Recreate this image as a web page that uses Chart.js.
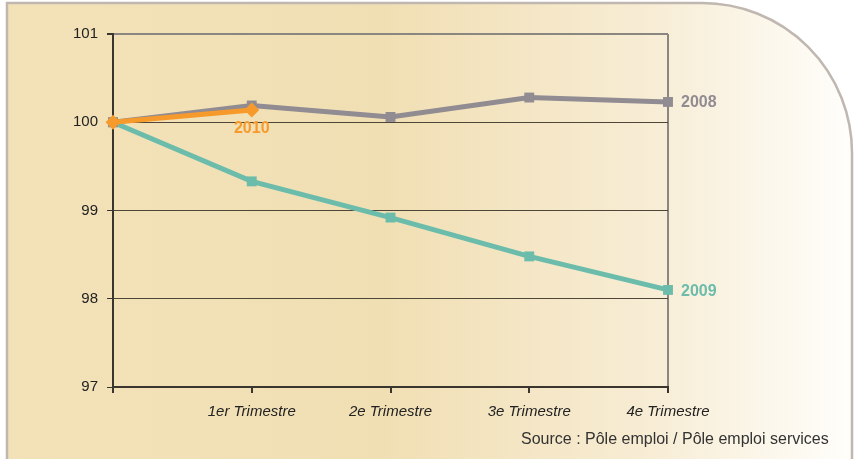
<!DOCTYPE html>
<html>
<head>
<meta charset="utf-8">
<script src="https://cdn.jsdelivr.net/npm/chart.js@4/dist/chart.umd.min.js"></script>
<style>
  html, body { margin: 0; padding: 0; background: #fff; }
  #wrap { width: 858px; height: 459px; position: relative; }
</style>
</head>
<body>
<div id="wrap"><canvas id="myChart" width="858" height="459"></canvas></div>
<script>
// donnees
var trimestres = ["", "1er Trimestre", "2e Trimestre", "3e Trimestre", "4e Trimestre"];
var serie2008 = [100, 100.19, 100.06, 100.28, 100.23];
var serie2009 = [100, 99.33, 98.92, 98.48, 98.10];
var serie2010 = [100, 100.14];
var yTicks = [97, 98, 99, 100, 101];
var source = "Source : Pôle emploi / Pôle emploi services";

var gris = "#918b92";
var vert = "#6bbcab";
var orange = "#f79a2c";

// fond arrondi + source + etiquettes des series
var decor = {
  id: "decor",
  beforeDraw: function (chart) {
    var ctx = chart.ctx;
    ctx.save();
    var grad = ctx.createLinearGradient(7, 0, 852, 0);
    grad.addColorStop(0, "#f3e2b8");
    grad.addColorStop(0.45, "#f1dfb4");
    grad.addColorStop(0.75, "#f7ecd3");
    grad.addColorStop(1, "#fffefb");
    var x0 = 7, y0 = 3, x1 = 852, r = 150;
    ctx.beginPath();
    ctx.moveTo(x0, 470);
    ctx.lineTo(x0, y0);
    ctx.lineTo(x1 - r, y0);
    ctx.arcTo(x1, y0, x1, y0 + r, r);
    ctx.lineTo(x1, 470);
    ctx.closePath();
    ctx.fillStyle = grad;
    ctx.fill();
    ctx.lineWidth = 2.5;
    ctx.strokeStyle = "#bfb7b0";
    ctx.stroke();
    ctx.restore();
  },
  afterDraw: function (chart) {
    var ctx = chart.ctx;
    ctx.save();
    ctx.font = "bold 16px 'Liberation Sans', Arial, sans-serif";
    ctx.textBaseline = "middle";
    var m2010 = chart.getDatasetMeta(0).data;
    var m2008 = chart.getDatasetMeta(1).data;
    var m2009 = chart.getDatasetMeta(2).data;
    var p = m2008[m2008.length - 1];
    ctx.fillStyle = gris;
    ctx.textAlign = "left";
    ctx.fillText("2008", p.x + 13, p.y + 1);
    p = m2009[m2009.length - 1];
    ctx.fillStyle = vert;
    ctx.fillText("2009", p.x + 13, p.y + 2);
    p = m2010[m2010.length - 1];
    ctx.fillStyle = orange;
    ctx.textAlign = "center";
    ctx.fillText("2010", p.x, p.y + 19);
    ctx.font = "16px 'Liberation Sans', Arial, sans-serif";
    ctx.fillStyle = "#333";
    ctx.textAlign = "left";
    ctx.fillText(source, 521, 440);
    ctx.restore();
  }
};

new Chart("myChart", {
  type: "line",
  data: {
    labels: trimestres,
    datasets: [{
      label: "2010",
      data: serie2010,
      borderColor: orange,
      backgroundColor: orange,
      borderWidth: 5,
      pointStyle: "rectRot",
      pointRadius: 7.5,
      pointBorderWidth: 0
    }, {
      label: "2008",
      data: serie2008,
      borderColor: gris,
      backgroundColor: gris,
      borderWidth: 5,
      pointStyle: "rect",
      pointRadius: 7,
      pointBorderWidth: 0
    }, {
      label: "2009",
      data: serie2009,
      borderColor: vert,
      backgroundColor: vert,
      borderWidth: 5,
      pointStyle: "rect",
      pointRadius: 7,
      pointBorderWidth: 0
    }]
  },
  options: {
    responsive: false,
    animation: false,
    layout: { padding: { left: 0, top: 34, right: 190, bottom: 0 } },
    plugins: {
      legend: { display: false },
      tooltip: { enabled: false }
    },
    scales: {
      x: {
        offset: false,
        afterFit: function (s) { s.height = 72; },
        border: { color: "#3a362f", width: 2 },
        grid: {
          color: function (c) { return c.index === 4 ? "#8a8680" : "rgba(0,0,0,0)"; },
          lineWidth: 2,
          tickColor: "#3a362f",
          tickLength: 6
        },
        ticks: {
          color: "#222",
          padding: 10,
          maxRotation: 0,
          font: { family: "'Liberation Sans', Arial, sans-serif", size: 15, style: "italic" }
        }
      },
      y: {
        min: 97,
        max: 101,
        afterFit: function (s) { s.width = 113; },
        afterBuildTicks: function (s) { s.ticks = yTicks.map(function (v) { return { value: v }; }); },
        border: { color: "#3a362f", width: 2 },
        grid: {
          color: function (c) { return c.tick && c.tick.value === 101 ? "#8a8680" : "#4e4637"; },
          lineWidth: function (c) { return c.tick && c.tick.value === 101 ? 2 : 1; },
          tickColor: "#3a362f",
          tickLength: 6
        },
        ticks: {
          color: "#222",
          padding: 9,
          font: { family: "'Liberation Sans', Arial, sans-serif", size: 15 }
        }
      }
    }
  },
  plugins: [decor]
});
</script>
</body>
</html>
